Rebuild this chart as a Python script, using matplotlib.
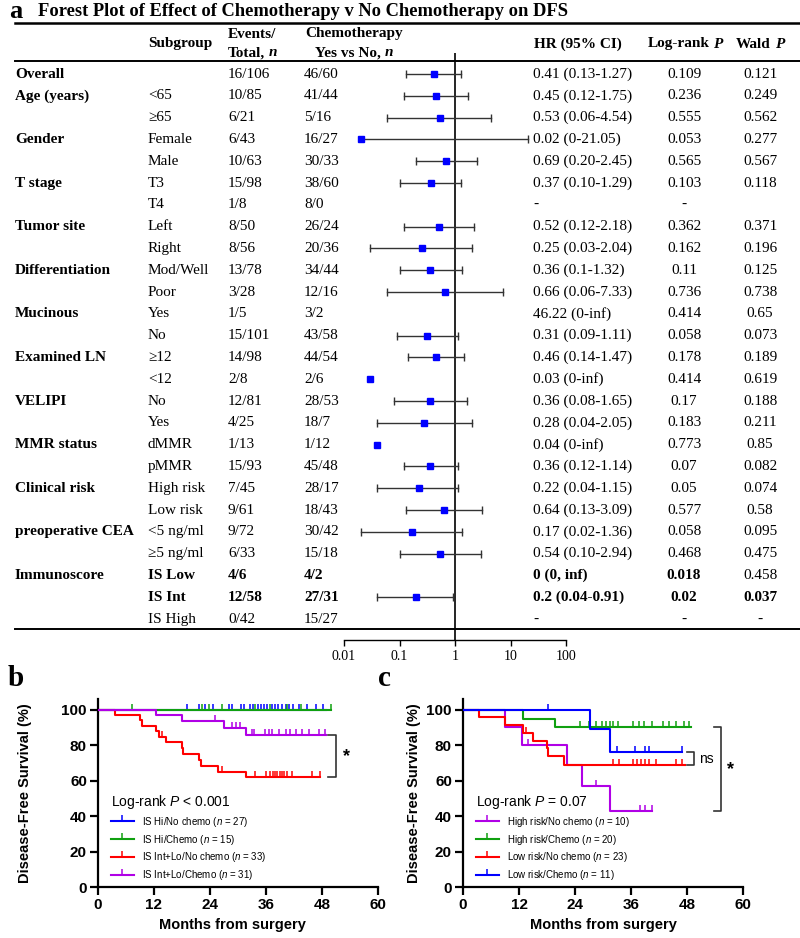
import numpy as np
import matplotlib
matplotlib.use("Agg")
import matplotlib.pyplot as plt
from matplotlib.lines import Line2D
from matplotlib.ticker import NullLocator
from matplotlib.transforms import blended_transform_factory
from matplotlib.offsetbox import TextArea, HPacker, AnnotationBbox

nan = np.nan
W, H = 800, 938
SERIF = ['Liberation Serif', 'DejaVu Serif']
SANS = ['Liberation Sans', 'DejaVu Sans']

plt.rcParams['mathtext.fontset'] = 'custom'
plt.rcParams['mathtext.rm'] = 'Liberation Sans'
plt.rcParams['mathtext.it'] = 'Liberation Sans:italic'

# ---------------- panel a: forest plot data ----------------
categories = ['Overall', 'Age (years)', '', 'Gender', '', 'T stage', '', 'Tumor site', '',
              'Differentiation', '', 'Mucinous', '', 'Examined LN', '', 'VELIPI', '',
              'MMR status', '', 'Clinical risk', '', 'preoperative CEA', '', 'Immunoscore', '', '']
subgroups = ['', '<65', '≥65', 'Female', 'Male', 'T3', 'T4', 'Left', 'Right', 'Mod/Well', 'Poor',
             'Yes', 'No', '≥12', '<12', 'No', 'Yes', 'dMMR', 'pMMR', 'High risk', 'Low risk',
             '<5 ng/ml', '≥5 ng/ml', 'IS Low', 'IS Int', 'IS High']
events = ['16/106', '10/85', '6/21', '6/43', '10/63', '15/98', '1/8', '8/50', '8/56', '13/78', '3/28',
          '1/5', '15/101', '14/98', '2/8', '12/81', '4/25', '1/13', '15/93', '7/45', '9/61', '9/72',
          '6/33', '4/6', '12/58', '0/42']
chemo_n = ['46/60', '41/44', '5/16', '16/27', '30/33', '38/60', '8/0', '26/24', '20/36', '34/44', '12/16',
           '3/2', '43/58', '44/54', '2/6', '28/53', '18/7', '1/12', '45/48', '28/17', '18/43', '30/42',
           '15/18', '4/2', '27/31', '15/27']
hr_text = ['0.41 (0.13-1.27)', '0.45 (0.12-1.75)', '0.53 (0.06-4.54)', '0.02 (0-21.05)', '0.69 (0.20-2.45)',
           '0.37 (0.10-1.29)', '-', '0.52 (0.12-2.18)', '0.25 (0.03-2.04)', '0.36 (0.1-1.32)',
           '0.66 (0.06-7.33)', '46.22 (0-inf)', '0.31 (0.09-1.11)', '0.46 (0.14-1.47)', '0.03 (0-inf)',
           '0.36 (0.08-1.65)', '0.28 (0.04-2.05)', '0.04 (0-inf)', '0.36 (0.12-1.14)', '0.22 (0.04-1.15)',
           '0.64 (0.13-3.09)', '0.17 (0.02-1.36)', '0.54 (0.10-2.94)', '0 (0, inf)', '0.2 (0.04-0.91)', '-']
logrank_p = ['0.109', '0.236', '0.555', '0.053', '0.565', '0.103', '-', '0.362', '0.162', '0.11', '0.736',
             '0.414', '0.058', '0.178', '0.414', '0.17', '0.183', '0.773', '0.07', '0.05', '0.577', '0.058',
             '0.468', '0.018', '0.02', '-']
wald_p = ['0.121', '0.249', '0.562', '0.277', '0.567', '0.118', '', '0.371', '0.196', '0.125', '0.738',
          '0.65', '0.073', '0.189', '0.619', '0.188', '0.211', '0.85', '0.082', '0.074', '0.58', '0.095',
          '0.475', '0.458', '0.037', '-']
hr = [0.41, 0.45, 0.53, 0.02, 0.69, 0.37, nan, 0.52, 0.25, 0.36, 0.66, nan, 0.31, 0.46, 0.03,
      0.36, 0.28, 0.04, 0.36, 0.22, 0.64, 0.17, 0.54, nan, 0.2, nan]
ci_lo = [0.13, 0.12, 0.06, 0, 0.20, 0.10, nan, 0.12, 0.03, 0.1, 0.06, nan, 0.09, 0.14, nan,
         0.08, 0.04, nan, 0.12, 0.04, 0.13, 0.02, 0.10, nan, 0.04, nan]
ci_hi = [1.27, 1.75, 4.54, 21.05, 2.45, 1.29, nan, 2.18, 2.04, 1.32, 7.33, nan, 1.11, 1.47, nan,
         1.65, 2.05, nan, 1.14, 1.15, 3.09, 1.36, 2.94, nan, 0.91, nan]
# bold flags for (subgroup, events, chemo, hr, logrank, wald)
bold_cells = {23: [1, 1, 1, 1, 1, 0], 24: [1, 1, 1, 1, 1, 1]}
hr_ticks = [0.01, 0.1, 1, 10, 100]
hr_ticklabels = ['0.01', '0.1', '1', '10', '100']

# ---------------- panel b: KM by immunoscore ----------------
b_labels = ['IS Hi/No chemo ($n$ = 27)', 'IS Hi/Chemo ($n$ = 15)',
            'IS Int+Lo/No chemo ($n$ = 33)', 'IS Int+Lo/Chemo ($n$ = 31)']
b_colors = ['#0000ff', '#10a010', '#ff0000', '#b000e6']
b_event_times = [[], [],
                 [3.6, 8.9, 9.5, 12.5, 13.0, 14.6, 17.9, 18.2, 21.6, 22.0, 25.7, 31.8],
                 [12.5, 18.1, 27.1, 31.8]]
b_levels = [[], [],
            [97.0, 93.9, 90.9, 87.9, 84.8, 81.6, 78.4, 75.1, 71.8, 68.5, 65.1, 61.8],
            [96.8, 93.5, 89.9, 85.6]]
b_end = [48.8, 50.0, 47.6, 48.8]
b_censor = [[19.1, 21.6, 23.0, 24.6, 28.0, 28.7, 30.7, 31.3, 32.5, 33.3, 34.2, 35.0, 35.6, 36.3, 37.2,
             38.0, 38.6, 39.4, 40.2, 41.0, 41.8, 43.0, 44.8, 46.8, 48.2],
            [7.3, 22.3, 23.8, 26.5, 33.6, 36.8, 40.6, 43.5, 49.9],
            [13.7, 26.6, 33.6, 36.0, 36.8, 37.4, 37.9, 38.4, 38.9, 39.4, 39.9, 40.4, 41.5, 45.9, 47.5],
            [25.1, 28.7, 29.6, 30.4, 33.0, 33.4, 35.7, 36.6, 37.3, 38.8, 40.2, 41.2, 42.5, 43.8, 45.2,
             47.3, 48.6]]

# ---------------- panel c: KM by clinical risk ----------------
c_labels = ['High risk/No chemo ($n$ = 10)', 'High risk/Chemo ($n$ = 20)',
            'Low risk/No chemo ($n$ = 23)', 'Low risk/Chemo ($n$ = 11)']
c_colors = ['#b000e6', '#10a010', '#ff0000', '#0000ff']
c_event_times = [[9.0, 12.7, 22.2, 25.6, 31.5],
                 [12.9, 19.7],
                 [3.5, 9.0, 12.8, 15.0, 17.9, 18.3, 21.6],
                 [27.3, 31.5]]
c_levels = [[90.0, 80.0, 68.6, 57.1, 42.9],
            [95.0, 90.0],
            [95.7, 91.3, 87.0, 82.6, 78.3, 73.9, 68.6],
            [88.9, 76.2]]
c_end = [40.6, 48.8, 47.5, 47.0]
c_censor = [[14.0, 28.4, 37.9, 38.9, 40.4],
            [25.0, 27.1, 28.6, 29.8, 30.7, 31.4, 32.1, 33.2, 36.4, 37.8, 38.8, 40.6, 42.8, 44.2, 45.6,
             47.4, 48.4],
            [13.6, 32.1, 33.5, 36.4, 37.2, 38.1, 39.1, 39.9, 41.3, 45.6, 47.0],
            [18.3, 33.0, 36.9, 39.0, 39.9, 46.9]]


def fx(x):
    return x / W


def fy(y):
    return 1 - y / H


fig = plt.figure(figsize=(W / 100, H / 100), dpi=100)

# ---------------- forest plot ----------------
ROW0, ROWH = 74, 21.8
ax = fig.add_axes([fx(344), fy(640), (566 - 344) / W, (640 - 53) / H])
ax.set_xscale('log')
ax.set_xlim(0.01, 100)
ax.set_ylim((640 - ROW0) / ROWH, (53 - ROW0) / ROWH)
for s in ['top', 'right', 'left']:
    ax.spines[s].set_visible(False)
ax.spines['bottom'].set_linewidth(1.0)
ax.set_yticks([])
ax.set_xticks(hr_ticks)
ax.set_xticklabels(hr_ticklabels, fontfamily=SERIF, fontsize=10)
ax.xaxis.set_minor_locator(NullLocator())
ax.tick_params(axis='x', direction='out', length=4, width=1, pad=3)
ax.axvline(1, color='black', lw=1.2)

for i in range(len(hr)):
    if np.isnan(hr[i]):
        continue
    if not np.isnan(ci_hi[i]):
        lo = ci_lo[i] if ci_lo[i] > 0 else hr[i]
        ax.plot([lo, ci_hi[i]], [i, i], color='#333333', lw=1.0)
        ax.plot([ci_hi[i]], [i], marker='|', ms=6, mew=1.0, color='#333333')
        if ci_lo[i] > 0:
            ax.plot([ci_lo[i]], [i], marker='|', ms=6, mew=1.0, color='#333333')
    ax.plot([hr[i]], [i], marker='s', ms=4.8, color='#0000ff', mec='#0000ff', zorder=5)

trans = blended_transform_factory(fig.transFigure, ax.transData)
FS = 11
for i in range(len(subgroups)):
    b = bold_cells.get(i, [0] * 6)
    w = lambda k: 'bold' if b[k] else 'normal'
    kw = dict(transform=trans, fontfamily=SERIF, fontsize=FS, va='center')
    if categories[i]:
        ax.text(fx(15), i, categories[i], fontweight='bold', **kw)
    ax.text(fx(148), i, subgroups[i], fontweight=w(0), **kw)
    ax.text(fx(228), i, events[i], fontweight=w(1), **kw)
    ax.text(fx(304), i, chemo_n[i], fontweight=w(2), **kw)
    ax.text(fx(533), i, hr_text[i], fontweight=w(3), **kw)
    ax.text(fx(684), i, logrank_p[i], fontweight=w(4), ha='center', **kw)
    ax.text(fx(760), i, wald_p[i], fontweight=w(5), ha='center', **kw)

hdr = dict(fontfamily=SERIF, fontsize=FS, fontweight='bold', va='center')


def rich(x, y, parts, ha):
    kids = [TextArea(s, textprops=dict(fontfamily=SERIF, fontsize=FS, fontweight='bold', fontstyle=st))
            for s, st in parts]
    box = HPacker(children=kids, pad=0, sep=2.8, align='baseline')
    ab = AnnotationBbox(box, (fx(x), fy(y)), xycoords='figure fraction', frameon=False,
                        box_alignment=(ha, 0.5), pad=0)
    fig.add_artist(ab)


fig.text(fx(148), fy(44), 'Subgroup', **hdr)
fig.text(fx(228), fy(34), 'Events/', **hdr)
rich(228, 53, [('Total,', 'normal'), ('n', 'italic')], 0)
fig.text(fx(354), fy(34), 'Chemotherapy', ha='center', **hdr)
rich(354, 53, [('Yes vs No,', 'normal'), ('n', 'italic')], 0.5)
fig.text(fx(534), fy(44), 'HR (95% CI)', **hdr)
rich(685, 44, [('Log-rank', 'normal'), ('P', 'italic')], 0.5)
rich(760, 44, [('Wald', 'normal'), ('P', 'italic')], 0.5)

fig.text(fx(9), fy(11), 'a', fontfamily=SERIF, fontsize=19, fontweight='bold', va='center')
fig.text(fx(38), fy(11), 'Forest Plot of Effect of Chemotherapy v No Chemotherapy on DFS',
         fontfamily=SERIF, fontsize=13.3, fontweight='bold', va='center')
for yy, lw in [(23, 1.8), (61, 1.4), (629, 1.4)]:
    fig.add_artist(Line2D([fx(15), fx(800)], [fy(yy), fy(yy)], color='black', lw=lw))


# ---------------- KM panels ----------------
def surv_at(ev, lev, t):
    k = np.searchsorted(ev, t, side='right')
    return 100.0 if k == 0 else lev[k - 1]


def km_panel(left, labels, colors, ev_times, levels, ends, censors, title, ylab_x, xlab_x):
    a = fig.add_axes([fx(left), fy(887), 280 / W, (887 - 699) / H])
    for k in range(len(labels)):
        t = [0] + ev_times[k] + [ends[k]]
        s = [100.0] + levels[k] + [levels[k][-1] if levels[k] else 100.0]
        a.step(t, s, where='post', color=colors[k], lw=1.5, zorder=3)
        cy = [surv_at(ev_times[k], levels[k], c) for c in censors[k]]
        a.plot(censors[k], cy, ls='none', marker=2, ms=4.5, mew=1.1, color=colors[k], zorder=3)
    a.set_xlim(0, 60)
    a.set_ylim(0, 106)
    a.set_xticks([0, 12, 24, 36, 48, 60])
    a.set_yticks([0, 20, 40, 60, 80, 100])
    for s in ['top', 'right']:
        a.spines[s].set_visible(False)
    for s in ['left', 'bottom']:
        a.spines[s].set_linewidth(1.6)
    a.tick_params(direction='out', length=6, width=1.6, labelsize=11, pad=2)
    for lab in a.get_xticklabels() + a.get_yticklabels():
        lab.set_fontfamily(SANS)
        lab.set_fontweight('bold')
    a.set_ylabel('Disease-Free Survival (%)', fontfamily=SANS, fontsize=10.5, fontweight='bold')
    a.yaxis.set_label_coords(ylab_x, 0.5)
    a.set_xlabel('Months from surgery', fontfamily=SANS, fontsize=10.5, fontweight='bold')
    a.xaxis.set_label_coords(xlab_x, -0.165)
    handles = [Line2D([], [], color=c, lw=1.5, marker=2, ms=4, mew=1.1) for c in colors]
    a.legend(handles, labels, title=title, loc='lower left', bbox_to_anchor=(0.045, 0.025),
             frameon=False, prop={'family': SANS, 'size': 7},
             title_fontproperties={'family': SANS, 'size': 10},
             handlelength=2.4, handletextpad=0.8, labelspacing=0.4, borderpad=0, borderaxespad=0,
             alignment='left', numpoints=1)
    return a


axb = km_panel(98, b_labels, b_colors, b_event_times, b_levels, b_end, b_censor,
               'Log-rank $P$ < 0.001', -0.236, 0.48)
yb_top, yb_bot = b_levels[3][-1], b_levels[2][-1]
axb.plot([49.3, 51, 51, 49.3], [yb_top, yb_top, yb_bot, yb_bot], color='#333333', lw=1.2)
axb.text(53.3, (yb_top + yb_bot) / 2, '*', fontfamily=SANS, fontsize=13, fontweight='bold',
         ha='center', va='center')

axc = km_panel(463, c_labels, c_colors, c_event_times, c_levels, c_end, c_censor,
               'Log-rank $P$ = 0.07', -0.15, 0.5)
y1, y2 = c_levels[3][-1], c_levels[2][-1]
axc.plot([48.1, 49.6, 49.6, 48.1], [y1, y1, y2, y2], color='#333333', lw=1.2)
axc.text(52.2, (y1 + y2) / 2, 'ns', fontfamily=SANS, fontsize=10, ha='center', va='center')
y3, y4 = c_levels[1][-1], c_levels[0][-1]
axc.plot([53.8, 55.3, 55.3, 53.8], [y3, y3, y4, y4], color='#333333', lw=1.2)
axc.text(57.4, (y3 + y4) / 2, '*', fontfamily=SANS, fontsize=13, fontweight='bold',
         ha='center', va='center')

fig.text(fx(8), fy(679), 'b', fontfamily=SERIF, fontsize=21, fontweight='bold', va='center')
fig.text(fx(378), fy(679), 'c', fontfamily=SERIF, fontsize=21, fontweight='bold', va='center')

fig.savefig('out.png', dpi=100)
